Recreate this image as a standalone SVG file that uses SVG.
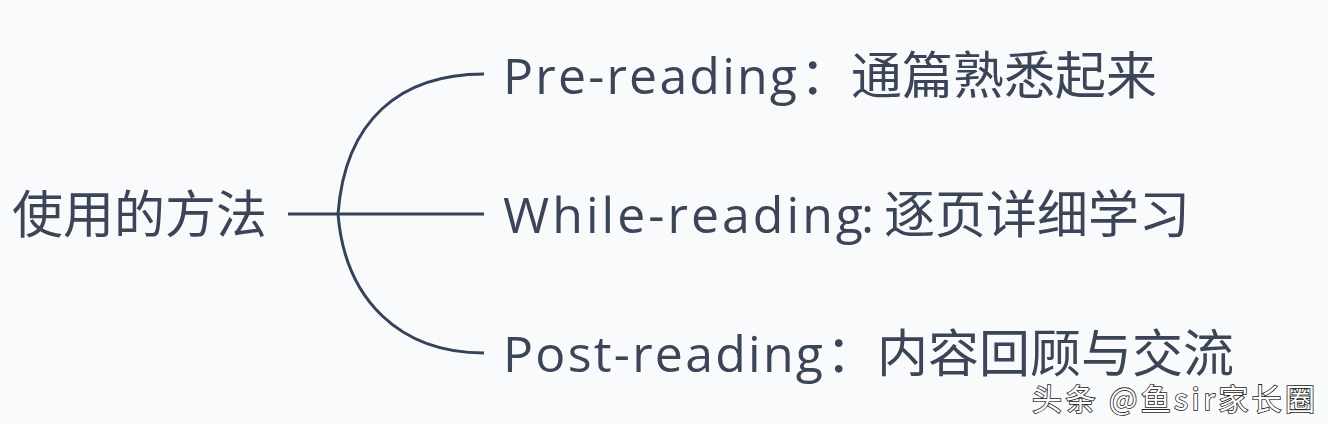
<svg xmlns="http://www.w3.org/2000/svg" width="1328" height="424" viewBox="0 0 1328 424">
<style>
.t{font-family:"Open Sans","Noto Sans CJK SC",sans-serif;font-size:50px;fill:#3b4557}
.c{font-family:"Noto Sans CJK SC",sans-serif;font-size:51px;fill:#3b4557}
.ln{fill:none;stroke:#34425a;stroke-width:3}
.wm{font-family:"Noto Sans CJK SC",sans-serif;font-size:30px;fill:#fff;stroke:#222;stroke-width:1.6;paint-order:stroke}
</style>
<rect width="1328" height="424" fill="#f9fafc"/>
<g id="connectors">
<path class="ln" d="M288,214 H484"/>
<path class="ln" d="M484,74 C400,74 345,120 338,214 C345,300 400,353 484,353"/>
</g>
<g id="root"><text class="c" x="12" y="233">使用的方法</text></g>
<g id="pre"><text class="t" y="94"><tspan x="503" textLength="294">Pre-reading</tspan><tspan class="c" x="800">：通篇熟悉起来</tspan></text></g>
<g id="while"><text class="t" y="233"><tspan x="503" textLength="360">While-reading</tspan><tspan x="861">:</tspan><tspan class="c" x="884">逐页详细学习</tspan></text></g>
<g id="post"><text class="t" y="372"><tspan x="503" textLength="320">Post-reading</tspan><tspan class="c" x="826">：内容回顾与交流</tspan></text></g>
<g id="watermark"><text class="wm" x="1032" y="410" textLength="283">头条 @鱼sir家长圈</text></g>
</svg>
